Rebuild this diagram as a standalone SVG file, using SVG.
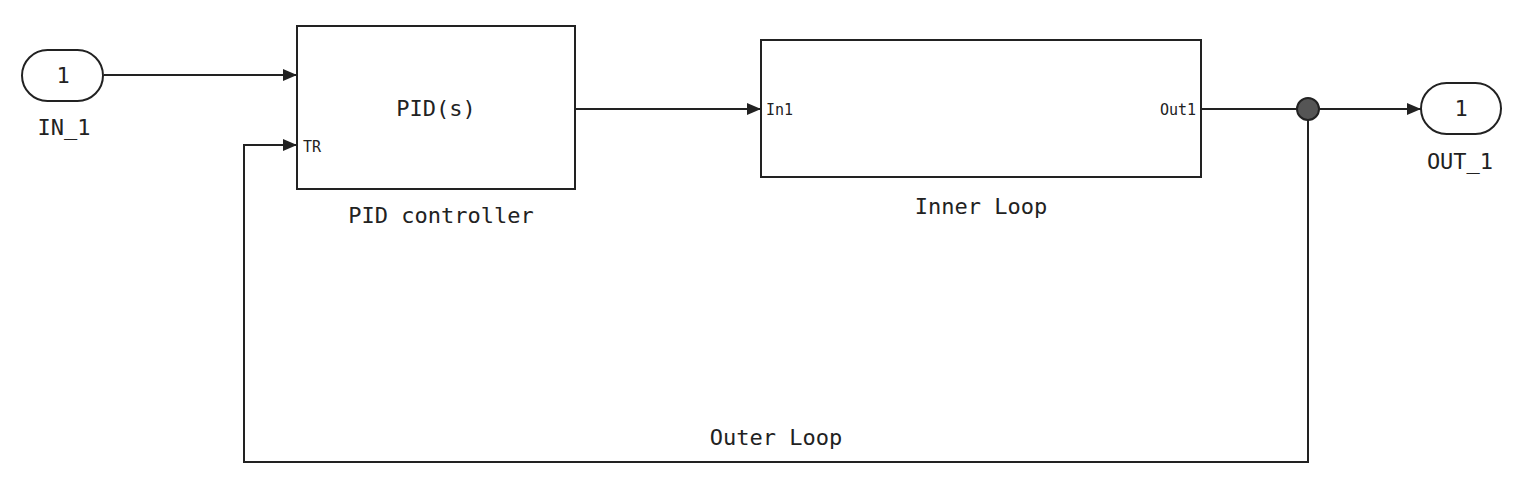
<svg xmlns="http://www.w3.org/2000/svg" width="1532" height="494" viewBox="0 0 1532 494">
<style>
.b{fill:#fff;stroke:#222;stroke-width:2}
.t{font-family:"DejaVu Sans Mono","Liberation Mono",monospace;fill:#222}
.l{fill:none;stroke:#222;stroke-width:2}
</style>
<defs><marker id="a" markerWidth="14" markerHeight="12" refX="14" refY="6" orient="auto" markerUnits="userSpaceOnUse"><path d="M0,0L14,6L0,12z" fill="#222"/></marker></defs>
<rect width="1532" height="494" fill="#fff"/>
<g id="connectors">
<path class="l" d="M104,75H297" marker-end="url(#a)"/>
<path class="l" d="M575,109H761" marker-end="url(#a)"/>
<path class="l" d="M1201,109H1421" marker-end="url(#a)"/>
<path class="l" d="M1308,109V462H244V145H297" marker-end="url(#a)"/>
<circle cx="1308" cy="109" r="11" fill="#555" stroke="#222" stroke-width="2"/>
<text class="t" x="776" y="445" font-size="22" text-anchor="middle">Outer Loop</text>
</g>
<g id="in1">
<rect class="b" x="22" y="50" width="81" height="51" rx="25.5"/>
<text class="t" x="63" y="83" font-size="22" text-anchor="middle">1</text>
<text class="t" x="64" y="135" font-size="22" text-anchor="middle">IN_1</text>
</g>
<g id="pid">
<rect class="b" x="297" y="26" width="278" height="163"/>
<text class="t" x="436" y="116" font-size="22" text-anchor="middle">PID(s)</text>
<text class="t" x="303" y="152" font-size="15">TR</text>
<text class="t" x="441" y="223" font-size="22" text-anchor="middle">PID controller</text>
</g>
<g id="inner">
<rect class="b" x="761" y="40" width="440" height="137"/>
<text class="t" x="766" y="115" font-size="15">In1</text>
<text class="t" x="1196" y="115" font-size="15" text-anchor="end">Out1</text>
<text class="t" x="981" y="214" font-size="22" text-anchor="middle">Inner Loop</text>
</g>
<g id="out1">
<rect class="b" x="1421" y="83" width="80" height="51" rx="25.5"/>
<text class="t" x="1461" y="116" font-size="22" text-anchor="middle">1</text>
<text class="t" x="1460" y="169" font-size="22" text-anchor="middle">OUT_1</text>
</g>
</svg>
